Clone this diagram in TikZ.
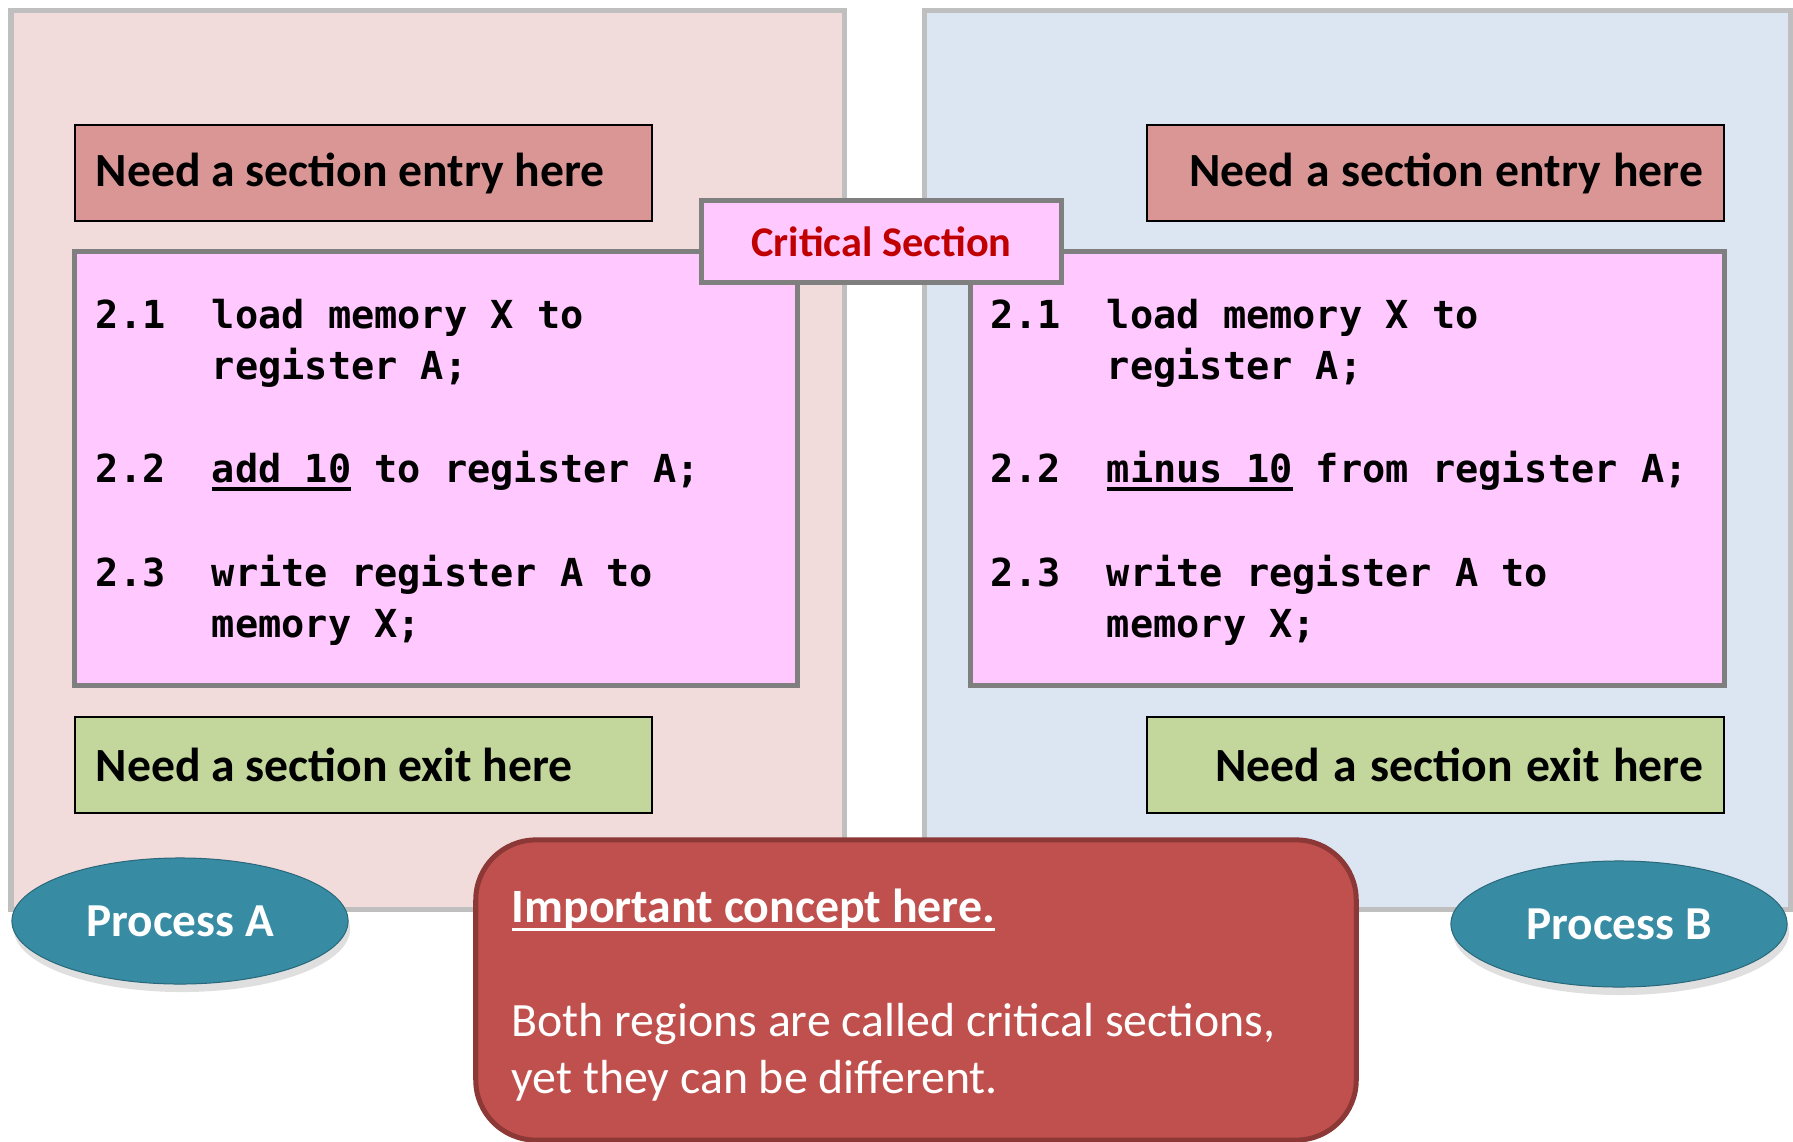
\documentclass[tikz,border=0pt]{standalone}
\usepackage{fontspec}
\setmainfont{Carlito}
\setmonofont{DejaVu Sans Mono}
\usetikzlibrary{shapes.geometric,shadows}

\definecolor{panelred}{HTML}{F2DCDB}
\definecolor{panelblue}{HTML}{DCE6F2}
\definecolor{panelgray}{HTML}{BFBFBF}
\definecolor{entryred}{HTML}{D99694}
\definecolor{exitgreen}{HTML}{C3D69B}
\definecolor{codepink}{HTML}{FFC9FF}
\definecolor{codegray}{HTML}{7F7F7F}
\definecolor{critred}{HTML}{C00000}
\definecolor{notefill}{HTML}{C0504D}
\definecolor{noteline}{HTML}{8C3836}
\definecolor{procteal}{HTML}{378BA3}

% underline at a fixed depth
\newsavebox{\ulbox}
\newcommand{\ulbar}[3]{\sbox{\ulbox}{#3}\rlap{\rule[-#1]{\wd\ulbox}{#2}}\usebox{\ulbox}}

\tikzset{
  panel/.style={draw=panelgray, line width=0.05cm},
  gatebox/.style={draw=black, line width=0.02cm, minimum width=5.77cm, minimum height=0.96cm,
    text width=5.35cm, inner xsep=0.21cm, font=\fontsize{13.55}{16}\selectfont\bfseries},
  codebox/.style={draw=codegray, fill=codepink, line width=0.05cm, minimum height=4.33cm,
    align=left, font=\ttfamily\bfseries\fontsize{10.97}{14.65}\selectfont},
  procbubble/.style={ellipse, fill=procteal, draw=procteal!75!black, line width=0.01cm,
    minimum width=3.36cm, minimum height=1.26cm, text=white,
    font=\fontsize{13.45}{16}\selectfont\bfseries,
    drop shadow={opacity=0.25, shadow xshift=0.02cm, shadow yshift=-0.08cm}},
}

\begin{document}
\begin{tikzpicture}[x=0.01cm, y=-0.01cm, execute at begin node={\spaceskip=0pt\xspaceskip=0pt\relax}]
  \useasboundingbox (0,0) rectangle (1793,1142);

  % Process panels
  \draw[panel, fill=panelred] (11,10) rectangle (844,909);
  \draw[panel, fill=panelblue] (924,10) rectangle (1790,909);

  % Entry sections
  \node[gatebox, fill=entryred, align=left] (entryA) at (363.5,173) {Need a section entry here};
  \node[gatebox, fill=entryred, align=right] (entryB) at (1435.5,173) {Need a section entry here};

  % Critical sections
  \node[codebox, minimum width=7.22cm, text width=6.80cm, inner xsep=0.21cm] (codeA) at (436,468.5) {%
    \rule{0pt}{10.5pt}2.1\hphantom{xx}load memory X to\\
    \hphantom{2.1xx}register A;\\[14.65pt]
    2.2\hphantom{xx}\ulbar{2.2pt}{1.1pt}{add 10} to register A;\\[14.65pt]
    2.3\hphantom{xx}write register A to\\
    \hphantom{2.1xx}memory X;};
  \node[codebox, minimum width=7.53cm, text width=7.13cm, inner xsep=0.20cm] (codeB) at (1347.5,468.5) {%
    \rule{0pt}{10.5pt}2.1\hphantom{xx}load memory X to\\
    \hphantom{2.1xx}register A;\\[14.65pt]
    2.2\hphantom{xx}\ulbar{2.2pt}{1.1pt}{minus 10} from register A;\\[14.65pt]
    2.3\hphantom{xx}write register A to\\
    \hphantom{2.1xx}memory X;};
  \node[draw=codegray, fill=codepink, line width=0.05cm, minimum width=3.59cm, minimum height=0.81cm,
    text=critred, font=\fontsize{12.04}{14}\selectfont\bfseries] (crit) at (881.5,241.5) {Critical Section};

  % Exit sections
  \node[gatebox, fill=exitgreen, align=left] (exitA) at (363.5,765) {Need a section exit here};
  \node[gatebox, fill=exitgreen, align=right] (exitB) at (1435.5,765) {Need a section exit here};

  % Process labels
  \node[procbubble] (procA) at (180,921) {Process A};
  \node[procbubble] (procB) at (1619,924) {Process B};

  % Note
  \node[draw=noteline, fill=notefill, line width=0.05cm, rounded corners=0.6cm,
    minimum width=8.80cm, minimum height=3.00cm] (note) at (916,990) {};
  \node[anchor=base west, inner sep=0pt, align=left, text=white, font=\fontsize{13.6}{16.2}\selectfont]
    (notetext) at (511,1093) {\textbf{\ulbar{2.4pt}{0.8pt}{Important concept here.}}\\[16.2pt]
    Both regions are called critical sections,\\
    yet they can be different.};
\end{tikzpicture}
\end{document}
